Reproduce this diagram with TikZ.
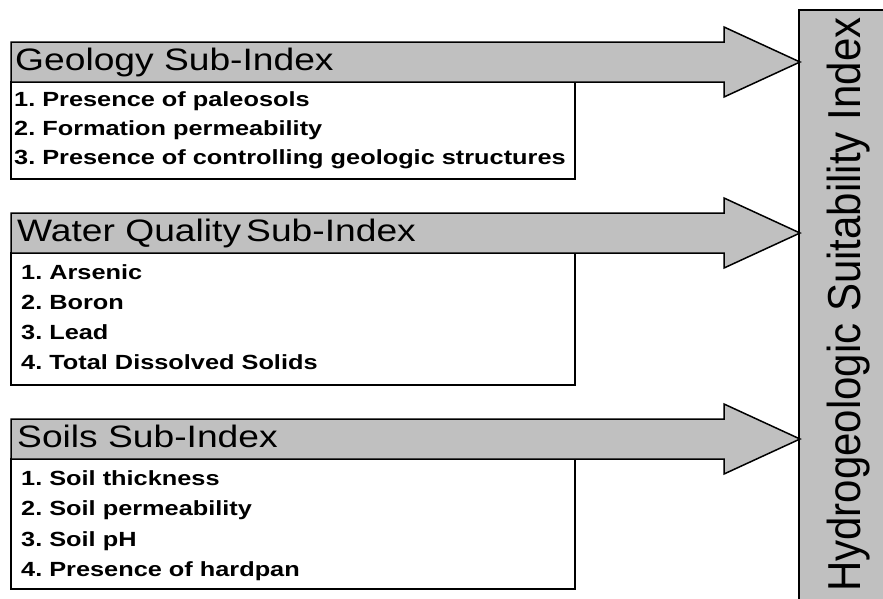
\documentclass[tikz,border=0pt]{standalone}
\usepackage{fontspec}
\setmainfont{Liberation Sans}
\definecolor{boxgray}{HTML}{C0C0C0}
\newcommand\hx[1]{\scalebox{1.2}[1]{#1}}
\newcommand\hl[1]{\scalebox{1.235}[1]{#1}}
\tikzset{
  graybox/.style={fill=boxgray, draw=black, line width=1.5pt, line join=miter},
  listbox/.style={fill=white, draw=black, line width=1.5pt},
  ttl/.style={anchor=base west, inner sep=0pt, font=\fontsize{31}{31}\selectfont},
  itm/.style={anchor=base west, inner sep=0pt, font=\frenchspacing\fontsize{20.5}{20.5}\selectfont\bfseries},
}
\begin{document}
\begin{tikzpicture}[x=1pt,y=-1pt]
\useasboundingbox (0,0) rectangle (883,598);
% index box
\draw[graybox] (799,10) rectangle (890,605);
\node[rotate=90, anchor=base west, inner sep=0pt, font=\fontsize{42}{42}\selectfont] (hsi) at (860,592) {\scalebox{1}[1.1]{Hydrogeologic Suitability Index}};
% Geology
\draw[listbox] (11,82) rectangle (575,179);
\draw[graybox] (11,42) -- (724,42) -- (724,27) -- (800,62) -- (724,97) -- (724,82) -- (11,82) -- cycle;
\node[ttl] (geot) at (15,70.5) {\hx{Geology Sub-Index}};
\node[itm] (g1) at (14,106.7) {\hl{1. Presence of paleosols}};
\node[itm] (g2) at (14,135.7) {\hl{2. Formation permeability}};
\node[itm] (g3) at (14,164.7) {\hl{3. Presence of controlling geologic structures}};
% Water quality
\draw[listbox] (11,253) rectangle (575,385);
\draw[graybox] (11,213) -- (724,213) -- (724,198) -- (800,233) -- (724,268) -- (724,253) -- (11,253) -- cycle;
\node[ttl] (watt) at (17,241.5) {\hx{Water Quality\hspace{-0.14em} Sub-Index}};
\node[itm] (w1) at (21,279) {\hl{1. Arsenic}};
\node[itm] (w2) at (21,309) {\hl{2. Boron}};
\node[itm] (w3) at (21,339) {\hl{3. Lead}};
\node[itm] (w4) at (21,369) {\hl{4. Total Dissolved Solids}};
% Soils
\draw[listbox] (11,459) rectangle (575,589);
\draw[graybox] (11,419) -- (724,419) -- (724,404) -- (800,439) -- (724,474) -- (724,459) -- (11,459) -- cycle;
\node[ttl] (soit) at (17,447.5) {\hx{Soils Sub-Index}};
\node[itm] (s1) at (21,485.5) {\hl{1. Soil thickness}};
\node[itm] (s2) at (21,515.5) {\hl{2. Soil permeability}};
\node[itm] (s3) at (21,546) {\hl{3. Soil pH}};
\node[itm] (s4) at (21,576) {\hl{4. Presence of hardpan}};
\end{tikzpicture}
\end{document}
